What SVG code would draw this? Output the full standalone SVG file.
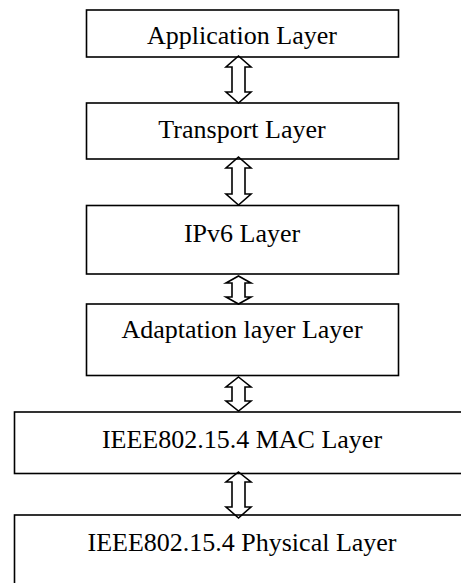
<svg xmlns="http://www.w3.org/2000/svg" width="461" height="583" viewBox="0 0 461 583">
  <style>
    .box { fill: none; stroke: #000; stroke-width: 1.6; }
    .lbl { font-family: "Liberation Serif", "Times New Roman", serif; font-size: 26px; fill: #000; text-anchor: middle; }
    .arr { fill: #fff; stroke: #000; stroke-width: 1.6; stroke-linejoin: miter; }
  </style>
  <rect width="461" height="583" fill="#fff"/>

  <!-- two-way block arrows between layers -->
  <g id="connectors">
    <path class="arr" d="M238.5,56 L251,67 L245,67 L245,92 L251,92 L238.5,103 L226,92 L232,92 L232,67 L226,67 Z"/>
    <path class="arr" d="M238.5,157 L251,168 L245,168 L245,194 L251,194 L238.5,205 L226,194 L232,194 L232,168 L226,168 Z"/>
    <path class="arr" d="M238.5,276 L251,283 L245,283 L245,297 L251,297 L238.5,304 L226,297 L232,297 L232,283 L226,283 Z"/>
    <path class="arr" d="M238.5,377 L251,387 L245,387 L245,401 L251,401 L238.5,411 L226,401 L232,401 L232,387 L226,387 Z"/>
    <path class="arr" d="M238.5,472 L251,482 L245,482 L245,507 L251,507 L238.5,518 L226,507 L232,507 L232,482 L226,482 Z"/>
  </g>

  <g id="application">
    <rect class="box" x="86.5" y="10" width="312" height="47"/>
    <text class="lbl" x="242" y="44">Application Layer</text>
  </g>
  <g id="transport">
    <rect class="box" x="86.5" y="103" width="312" height="56"/>
    <text class="lbl" x="242" y="138">Transport Layer</text>
  </g>
  <g id="ipv6">
    <rect class="box" x="86.5" y="205.5" width="312" height="68.5"/>
    <text class="lbl" x="242" y="241.5">IPv6 Layer</text>
  </g>
  <g id="adaptation">
    <rect class="box" x="86.5" y="304" width="312" height="71.5"/>
    <text class="lbl" x="242" y="338">Adaptation layer Layer</text>
  </g>
  <g id="mac">
    <rect class="box" x="14.5" y="412" width="470" height="61.5"/>
    <text class="lbl" x="242" y="448">IEEE802.15.4 MAC Layer</text>
  </g>
  <g id="physical">
    <rect class="box" x="14.5" y="515" width="470" height="90"/>
    <text class="lbl" x="242" y="550.5">IEEE802.15.4 Physical Layer</text>
  </g>
</svg>
